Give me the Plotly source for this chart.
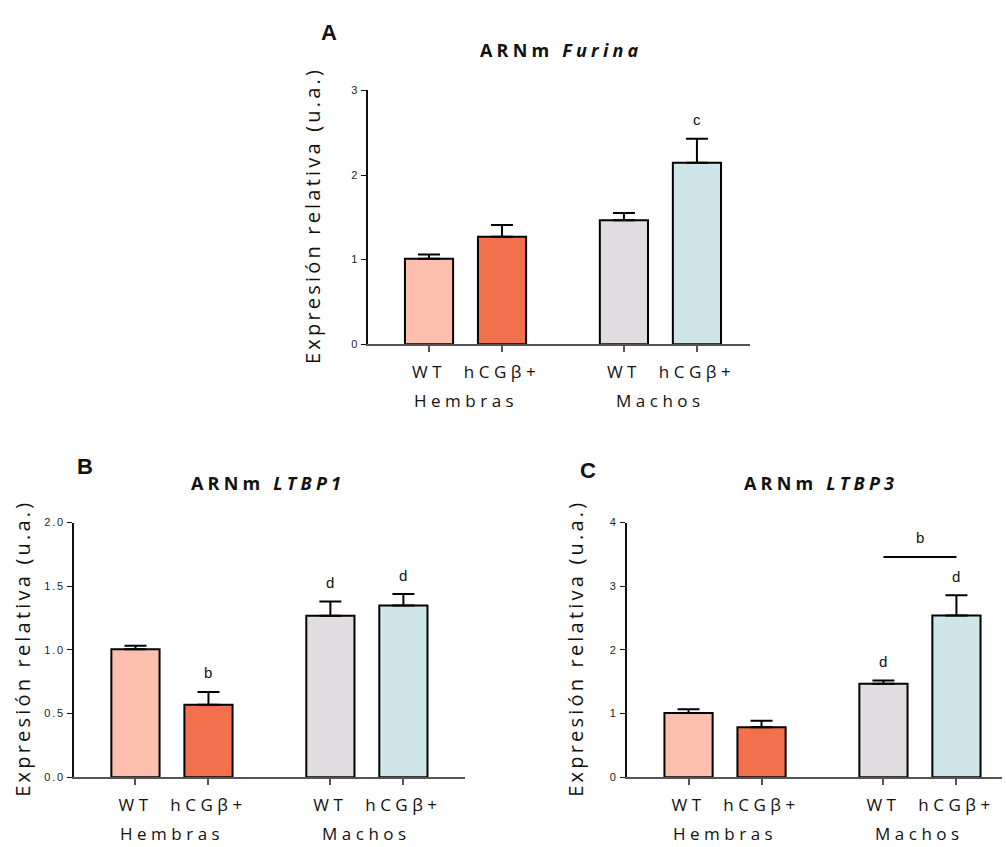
import plotly.graph_objects as go

W, H = 1006, 847

groups = ["Hembras", "Machos"]
conditions = ["WT", "hCGβ+", "WT", "hCGβ+"]
positions = [0, 1, 2.67, 3.67]
group_centers = [0.5, 3.17]
colors = ["#FCBFAE", "#F3704D", "#E1DDE1", "#CEE6EA"]

furina_mean = [1.01, 1.27, 1.465, 2.145]
furina_err = [0.05, 0.14, 0.085, 0.285]
furina_sig = ["", "", "", "c"]
furina_ticks = [0, 1, 2, 3]
furina_ticktext = ["0", "1", "2", "3"]

ltbp1_mean = [1.005, 0.57, 1.268, 1.349]
ltbp1_err = [0.028, 0.10, 0.112, 0.09]
ltbp1_sig = ["", "b", "d", "d"]
ltbp1_ticks = [0, 0.5, 1.0, 1.5, 2.0]
ltbp1_ticktext = ["0.0", "0.5", "1.0", "1.5", "2.0"]

ltbp3_mean = [1.01, 0.783, 1.47, 2.54]
ltbp3_err = [0.058, 0.104, 0.05, 0.317]
ltbp3_sig = ["", "", "d", "d"]
ltbp3_ticks = [0, 1, 2, 3, 4]
ltbp3_ticktext = ["0", "1", "2", "3", "4"]
ltbp3_bracket_y = 3.46
ltbp3_bracket_label = "b"


def ls(text, px):
    return f'<span style="letter-spacing:{px}px">{text}</span>'


TEXT_FONT = "Open Sans"
NUM_FONT = "Liberation Sans"

panels = [
    dict(key="", title="ARNm <i>Furina</i>", letter="A", mean=furina_mean, err=furina_err,
         sig=furina_sig, ticks=furina_ticks, ticktext=furina_ticktext,
         xdom=(368, 750), ydom=(85.7, 343), xr=(-0.836, 4.397), yr=(0, 3),
         title_px=(561, 45), letter_px=(329, 27), ytitle_px=(313, 213)),
    dict(key="2", title="ARNm <i>LTBP1</i>", letter="B", mean=ltbp1_mean, err=ltbp1_err,
         sig=ltbp1_sig, ticks=ltbp1_ticks, ticktext=ltbp1_ticktext,
         xdom=(74, 465), ydom=(524, 782.3), xr=(-0.842, 4.514), yr=(0, 2),
         title_px=(268, 484), letter_px=(85, 467), ytitle_px=(23, 652)),
    dict(key="3", title="ARNm <i>LTBP3</i>", letter="C", mean=ltbp3_mean, err=ltbp3_err,
         sig=ltbp3_sig, ticks=ltbp3_ticks, ticktext=ltbp3_ticktext,
         xdom=(626.7, 1001.7), ydom=(524, 782.3), xr=(-0.847, 4.29), yr=(0, 4),
         title_px=(821, 484), letter_px=(588, 471), ytitle_px=(576, 652)),
]

fig = go.Figure()
annotations = []
shapes = []
layout = {}

for p in panels:
    k = p["key"]
    xa, ya = "x" + k, "y" + k
    fig.add_trace(go.Bar(
        x=positions, y=p["mean"], width=0.66, xaxis=xa, yaxis=ya,
        marker=dict(color=colors, line=dict(color="black", width=2)),
        error_y=dict(type="data", symmetric=False, array=p["err"],
                     arrayminus=[0] * 4, color="black", thickness=2, width=11),
        hoverinfo="y", showlegend=False,
    ))
    x0, x1 = p["xdom"]
    y0, y1 = p["ydom"]
    layout["xaxis" + k] = dict(
        domain=[x0 / W, x1 / W], range=list(p["xr"]), anchor=ya,
        showline=True, linecolor="#555555", linewidth=1.5, showgrid=False, zeroline=False,
        ticks="outside", ticklen=6, tickwidth=1.5, tickcolor="#555555",
        tickvals=positions, ticktext=[ls(c, 4.5) for c in conditions],
        tickfont=dict(family=TEXT_FONT, size=17, color="#111111"),
        ticklabelstandoff=6, fixedrange=True,
    )
    layout["yaxis" + k] = dict(
        domain=[1 - y1 / H, 1 - y0 / H], range=list(p["yr"]), anchor=xa,
        showline=True, linecolor="#111111", linewidth=1.5, showgrid=False, zeroline=False,
        ticks="outside", ticklen=5, tickwidth=1.2, tickcolor="#111111",
        tickvals=p["ticks"], ticktext=[ls(t, 1.8) for t in p["ticktext"]],
        tickfont=dict(family=NUM_FONT, size=11, color="#222222"), fixedrange=True,
    )
    # group labels
    for g, gc in zip(groups, group_centers):
        annotations.append(dict(
            text=ls(g, 4.5), x=gc, xref=xa, y=1 - (y1 + 57) / H, yref="paper",
            showarrow=False, xanchor="center", yanchor="middle",
            font=dict(family=TEXT_FONT, size=17, color="#111111")))
    # significance letters
    for xpos, m, e, s in zip(positions, p["mean"], p["err"], p["sig"]):
        if s:
            annotations.append(dict(
                text=s, x=xpos, xref=xa, y=m + e, yref=ya, yshift=19,
                showarrow=False, xanchor="center", yanchor="middle",
                font=dict(family=NUM_FONT, size=15, color="#111111")))
    # titles
    tx, ty = p["title_px"]
    annotations.append(dict(
        text="<b>" + ls(p["title"], 4.2) + "</b>", x=tx / W, y=1 - ty / H,
        xref="paper", yref="paper", showarrow=False, xanchor="center", yanchor="middle",
        font=dict(family=TEXT_FONT, size=18, color="#111111")))
    lx, ly = p["letter_px"]
    annotations.append(dict(
        text="<b>" + p["letter"] + "</b>", x=lx / W, y=1 - ly / H,
        xref="paper", yref="paper", showarrow=False, xanchor="center", yanchor="middle",
        font=dict(family=NUM_FONT, size=22, color="#111111")))
    yx, yy = p["ytitle_px"]
    annotations.append(dict(
        text=ls("Expresión relativa (u.a.)", 3.2), x=yx / W, y=1 - yy / H,
        xref="paper", yref="paper", showarrow=False, xanchor="center", yanchor="middle",
        textangle=-90, font=dict(family=TEXT_FONT, size=20, color="#111111")))

# bracket in panel C
shapes.append(dict(type="line", xref="x3", yref="y3", x0=positions[2], x1=positions[3],
                   y0=ltbp3_bracket_y, y1=ltbp3_bracket_y, line=dict(color="black", width=2)))
annotations.append(dict(text=ltbp3_bracket_label, x=(positions[2] + positions[3]) / 2, xref="x3",
                        y=ltbp3_bracket_y, yref="y3", yshift=19, showarrow=False,
                        xanchor="center", yanchor="middle",
                        font=dict(family=NUM_FONT, size=15, color="#111111")))

fig.update_layout(
    width=W, height=H, margin=dict(l=0, r=0, t=0, b=0),
    paper_bgcolor="white", plot_bgcolor="white", showlegend=False,
    annotations=annotations, shapes=shapes, **layout,
)

fig.write_html("out.html", config={"displayModeBar": False},
               post_script="document.body.style.margin='0';document.body.style.overflow='hidden';")
